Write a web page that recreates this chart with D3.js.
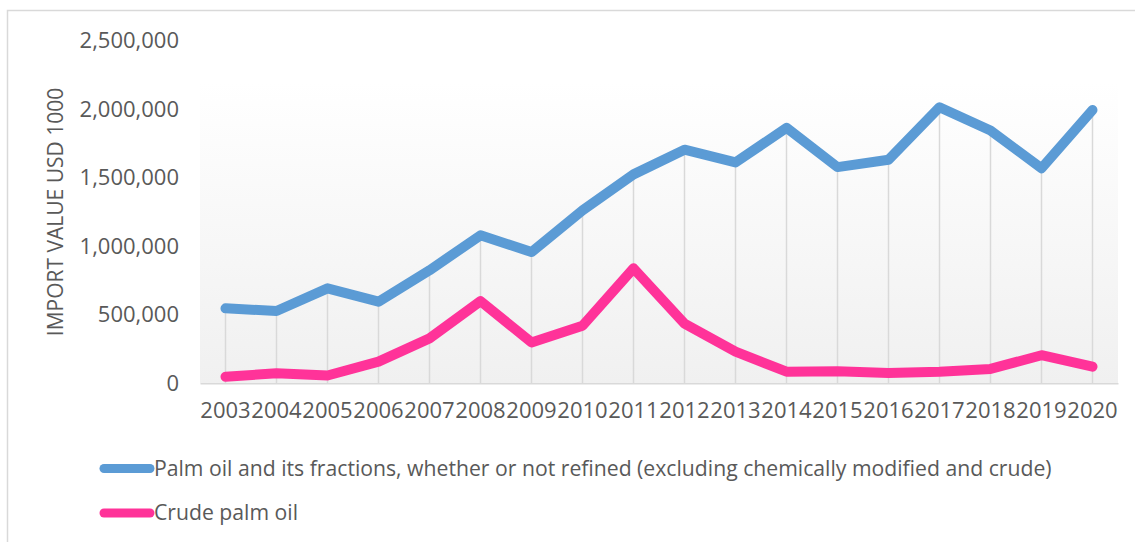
<!DOCTYPE html>
<html>
<head>
<meta charset="utf-8">
<script src="https://cdn.jsdelivr.net/npm/d3@7"></script>
<style>
    body { margin: 0; background: #fff; }
    text { font-family: "Open Sans", sans-serif; fill: #595959; }
</style>
</head>
<body>
<div id="chart"></div>
<script>
// years on the category axis
const years = ['2003', '2004', '2005', '2006', '2007', '2008', '2009', '2010', '2011',
    '2012', '2013', '2014', '2015', '2016', '2017', '2018', '2019', '2020'];

// import value, USD 1000
const palmOilFractions = [547000, 528000, 693000, 596000, 825000, 1080000, 958000, 1262000, 1525000,
    1705000, 1612000, 1865000, 1578000, 1632000, 2015000, 1845000, 1570000, 1995000];
const crudePalmOil = [48000, 73000, 57000, 158000, 328000, 600000, 298000, 420000, 839000,
    436000, 231000, 85000, 88000, 76000, 85000, 105000, 205000, 121000];

const seriesNames = [
    'Palm oil and its fractions, whether or not refined (excluding chemically modified and crude)',
    'Crude palm oil'
];
const yTicks = [0, 500000, 1000000, 1500000, 2000000, 2500000];
const yLabel = 'IMPORT VALUE USD 1000';

class LineChart {

    constructor(_config) {
        this.config = {
            parentElement: _config.parentElement,
            containerWidth: 1135,
            containerHeight: 542,
            margin: {top: 40.8, right: 17, bottom: 158.7, left: 200},
            colors: ['#5b9bd5', '#ff3399'],
            lineWidth: 10
        };
        this.initVis();
    }

    initVis() {
        let vis = this;

        vis.width = vis.config.containerWidth - vis.config.margin.left - vis.config.margin.right;
        vis.height = vis.config.containerHeight - vis.config.margin.top - vis.config.margin.bottom;

        vis.series = [palmOilFractions, crudePalmOil].map((values, i) => ({
            name: seriesNames[i],
            color: vis.config.colors[i],
            values: values.map((v, j) => ({year: years[j], value: v}))
        }));

        vis.xScale = d3.scaleBand()
            .domain(years)
            .range([0, vis.width]);

        vis.yScale = d3.scaleLinear()
            .domain([0, 2500000])
            .range([vis.height, 0]);

        vis.svg = d3.select(vis.config.parentElement).append('svg')
            .attr('width', vis.config.containerWidth)
            .attr('height', vis.config.containerHeight);

        // outer chart border
        vis.svg.append('rect')
            .attr('x', 7.5)
            .attr('y', 10.5)
            .attr('width', 1200)
            .attr('height', 600)
            .attr('fill', 'none')
            .attr('stroke', '#d9d9d9')
            .attr('stroke-width', 1.5);

        const grad = vis.svg.append('defs')
            .append('linearGradient')
            .attr('id', 'plot-bg')
            .attr('x1', 0).attr('y1', 0)
            .attr('x2', 0).attr('y2', 1);
        grad.append('stop').attr('offset', '0%').attr('stop-color', '#ffffff');
        grad.append('stop').attr('offset', '12%').attr('stop-color', '#ffffff');
        grad.append('stop').attr('offset', '100%').attr('stop-color', '#f0f0f0');

        vis.chart = vis.svg.append('g')
            .attr('transform', `translate(${vis.config.margin.left},${vis.config.margin.top})`);

        vis.chart.append('rect')
            .attr('width', vis.width)
            .attr('height', vis.height)
            .attr('fill', 'url(#plot-bg)');

        vis.renderVis();
    }

    renderVis() {
        let vis = this;
        const xPos = d => vis.xScale(d) + vis.xScale.bandwidth() / 2;

        // drop lines from the highest series down to the axis
        vis.chart.selectAll('.drop-line')
            .data(years)
            .join('line')
            .attr('class', 'drop-line')
            .attr('x1', d => xPos(d))
            .attr('x2', d => xPos(d))
            .attr('y1', (d, i) => vis.yScale(Math.max(palmOilFractions[i], crudePalmOil[i])))
            .attr('y2', vis.height)
            .attr('stroke', '#d9d9d9')
            .attr('stroke-width', 1.5);

        // category axis
        vis.xAxis = d3.axisBottom(vis.xScale).tickSize(0).tickPadding(19);
        vis.xAxisG = vis.chart.append('g')
            .attr('transform', `translate(0,${vis.height})`)
            .call(vis.xAxis)
            .call(g => g.select('.domain').attr('stroke', '#d9d9d9').attr('stroke-width', 1.5));
        vis.xAxisG.selectAll('text')
            .attr('font-size', 22)
            .attr('font-family', '"Open Sans", sans-serif')
            .attr('fill', '#595959');

        // value axis
        vis.yAxis = d3.axisLeft(vis.yScale)
            .tickValues(yTicks)
            .tickSize(0)
            .tickPadding(21)
            .tickFormat(d3.format(','));
        vis.yAxisG = vis.chart.append('g')
            .call(vis.yAxis)
            .call(g => g.select('.domain').remove());
        vis.yAxisG.selectAll('text')
            .attr('font-size', 22)
            .attr('font-family', '"Open Sans", sans-serif')
            .attr('fill', '#595959');

        vis.svg.append('text')
            .attr('transform', `translate(63,212) rotate(-90)`)
            .attr('text-anchor', 'middle')
            .attr('font-size', 21)
            .text(yLabel);

        const line = d3.line()
            .x(d => xPos(d.year))
            .y(d => vis.yScale(d.value));

        vis.chart.selectAll('.series-line')
            .data(vis.series)
            .join('path')
            .attr('class', 'series-line')
            .attr('d', d => line(d.values))
            .attr('fill', 'none')
            .attr('stroke', d => d.color)
            .attr('stroke-width', vis.config.lineWidth)
            .attr('stroke-linejoin', 'round')
            .attr('stroke-linecap', 'round');

        // legend
        const legend = vis.svg.selectAll('.legend-item')
            .data(vis.series)
            .join('g')
            .attr('class', 'legend-item')
            .attr('transform', (d, i) => `translate(104,${468.5 + i * 44.5})`);

        legend.append('line')
            .attr('x1', 0)
            .attr('x2', 46)
            .attr('stroke', d => d.color)
            .attr('stroke-width', 9)
            .attr('stroke-linecap', 'round');

        legend.append('text')
            .attr('x', 50)
            .attr('dy', '0.35em')
            .attr('font-size', 21.2)
            .text(d => d.name);
    }
}

const chart = new LineChart({parentElement: '#chart'});
</script>
</body>
</html>
